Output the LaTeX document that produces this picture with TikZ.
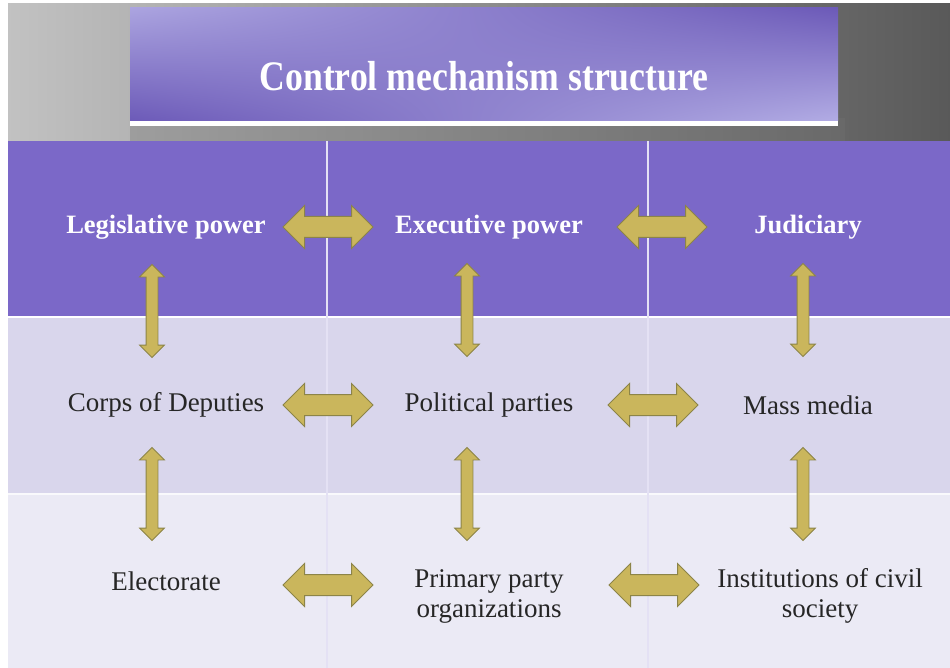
\documentclass[tikz,border=0pt]{standalone}
\usepackage{fontspec}
\usepackage{graphicx}
\setmainfont{Liberation Serif}
\usetikzlibrary{shapes.arrows,shadings}
\definecolor{rowA}{RGB}{123,104,200}
\definecolor{rowB}{RGB}{217,214,236}
\definecolor{rowC}{RGB}{235,234,245}
\definecolor{goldfill}{RGB}{202,182,92}
\definecolor{goldline}{RGB}{140,132,72}
\definecolor{titleDark}{RGB}{108,90,184}
\definecolor{titleLight}{RGB}{178,172,228}
\tikzset{
  hdbl/.style={shape=double arrow, fill=goldfill, draw=goldline, line width=1pt,
    inner xsep=0pt, inner ysep=10pt, double arrow head extend=11pt, minimum height=90pt},
  vdbl/.style={shape=double arrow, rotate=90, fill=goldfill, draw=goldline, line width=0.8pt,
    inner xsep=0pt, inner ysep=5.5pt, double arrow head extend=6.5pt, minimum height=93pt},
  headtxt/.style={text=white, font=\fontsize{26.5}{30}\selectfont\bfseries, align=center},
  bodytxt/.style={text=black!85, font=\fontsize{27}{30}\selectfont, align=center},
}
\begin{document}
\begin{tikzpicture}[x=1pt,y=-1pt]
\useasboundingbox (0,0) rectangle (950,668);
\fill[white] (0,0) rectangle (950,668);
% top grey background
\shade[left color=black!24, right color=black!65] (8,4) rectangle (950,141);
\fill[black!55, opacity=0.35] (130,118) rectangle (845,141);
% rows
\fill[rowA] (8,141) rectangle (950,317);
\fill[rowB] (8,317) rectangle (950,494);
\fill[rowC] (8,494) rectangle (950,668);
\draw[white, line width=2.5pt] (8,317) -- (950,317);
\draw[white!70!rowC, line width=2pt] (8,494) -- (950,494);
\draw[white!80!rowA, line width=1.2pt] (327,141) -- (327,668);
\draw[white!80!rowA, line width=1.2pt] (648,141) -- (648,668);
% title box
\shade[upper left=titleLight!90!titleDark, upper right=titleDark, lower left=titleDark, lower right=titleLight]
  (130,8) rectangle (838,121);
\fill[white] (130,121) rectangle (838,126);
\node[text=white, font=\fontsize{42}{46}\selectfont\bfseries] (title) at (484,76)
  {\scalebox{0.85}[1]{Control mechanism structure}};
% texts
\node[headtxt] (L1) at (166,227) {Legislative power};
\node[headtxt] (E1) at (489,227) {Executive power};
\node[headtxt] (J1) at (808,227) {Judiciary};
\node[bodytxt] (L2) at (166,405) {Corps of Deputies};
\node[bodytxt] (E2) at (489,405) {Political parties};
\node[bodytxt] (J2) at (808,405) {Mass media};
\node[bodytxt] (L3) at (166,581) {Electorate};
\node[bodytxt] (E3) at (489,596) {Primary party\\organizations};
\node[bodytxt] (J3) at (820,596) {Institutions of civil\\society};
% horizontal arrows
\node[hdbl] (h1) at (328,227) {};
\node[hdbl] (h2) at (662,227) {};
\node[hdbl] (h3) at (328,405) {};
\node[hdbl] (h4) at (653,405) {};
\node[hdbl] (h5) at (328,585) {};
\node[hdbl] (h6) at (654,585) {};
% vertical arrows
\node[vdbl] (v1) at (152,311) {};
\node[vdbl] (v2) at (467,310) {};
\node[vdbl] (v3) at (803,310) {};
\node[vdbl] (v4) at (152,494) {};
\node[vdbl] (v5) at (467,494) {};
\node[vdbl] (v6) at (803,494) {};
\end{tikzpicture}
\end{document}
